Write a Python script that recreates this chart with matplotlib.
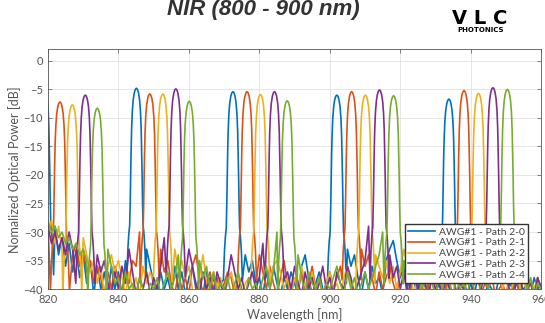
import numpy as np
import matplotlib
matplotlib.use('Agg')
import matplotlib.pyplot as plt

# series labels and MATLAB default colours
labels = ['AWG#1 - Path 2-0', 'AWG#1 - Path 2-1', 'AWG#1 - Path 2-2',
          'AWG#1 - Path 2-3', 'AWG#1 - Path 2-4']
colors = ['#0072BD', '#D95319', '#EDB120', '#7E2F8E', '#77AC30']

# peak centres [nm] and peak levels [dB]
peak_centers = [
    [818.9, 845.1, 872.5, 902.0, 933.8],
    [823.4, 848.9, 876.5, 906.2, 938.1],
    [826.9, 852.6, 880.3, 910.1, 942.2],
    [830.6, 856.3, 884.3, 914.1, 946.3],
    [834.0, 860.1, 887.9, 918.1, 950.4],
]
peak_tops = [
    [-4.5, -4.8, -5.4, -6.0, -6.7],
    [-7.2, -5.8, -5.4, -5.4, -5.2],
    [-7.7, -5.8, -5.9, -6.0, -5.7],
    [-6.0, -4.9, -5.4, -5.1, -4.7],
    [-8.3, -7.1, -7.0, -6.1, -5.0],
]

# passband shape (offset from centre [nm], level below peak [dB])
shape_off = [-2.7, -2.4, -2.15, -1.9, -1.75, -1.62, -1.5, -1.35, -1.15, -0.9, -0.6, -0.3, 0.0,
             0.3, 0.6, 0.9, 1.15, 1.35, 1.5, 1.62, 1.75, 1.9, 2.15, 2.4, 2.7]
shape_rel = [-33, -28, -25.5, -24, -20, -15, -11, -7, -4, -2, -0.8, -0.2, 0,
             -0.2, -0.8, -2, -4, -7, -11, -15, -20, -24, -25.5, -28, -33]

# noise floor sampled every 1 nm from 820 to 960
floor_wl = np.arange(820, 961, 1.0)
floor_20 = [-30, -33, -29, -34, -31, -36, -32, -37, -33, -38,
            -34, -39, -35, -41, -36, -40, -37, -41, -36, -40,
            -37, -41, -35, -33, -30, -30, -30, -31, -33, -36,
            -39, -41, -37, -40, -38, -41, -36, -40, -37, -41,
            -38, -36, -40, -38, -41, -37, -40, -38, -41, -39,
            -36, -33, -30, -30, -30, -33, -34, -37, -35, -39,
            -38, -41, -37, -40, -36, -39, -41, -38, -40, -37,
            -39, -41, -36, -34, -38, -41, -39, -37, -40, -41,
            -38, -35, -30, -30, -30, -33, -36, -34, -38, -41,
            -37, -40, -36, -39, -38, -41, -35, -33, -31.5, -35,
            -38, -36, -40, -37, -39, -41, -38, -40, -39, -41,
            -40, -38, -30, -30, -30, -30, -30, -34, -38, -41,
            -39, -41, -38, -40, -41, -39, -40, -41, -38, -40,
            -41, -39, -40, -38, -41, -40, -39, -41, -38, -40,
            -39]
floor_21 = [-28, -31, -29, -30, -30, -30, -31, -34, -32, -36,
            -33, -37, -35, -39, -36, -38, -41, -37, -40, -36,
            -38, -41, -37, -39, -35, -36, -30, -30, -30, -30,
            -30, -30, -33, -37, -35, -39, -41, -37, -40, -38,
            -41, -36, -34, -38, -41, -39, -37, -40, -38, -41,
            -39, -37, -38, -41, -32, -30, -30, -30, -30, -30,
            -34, -37, -40, -36, -39, -41, -38, -35, -39, -41,
            -38, -40, -37, -41, -39, -36, -40, -38, -41, -39,
            -37, -40, -38, -36, -30, -30, -30, -30, -30, -33,
            -36, -34, -38, -41, -37, -40, -38, -36, -39, -41,
            -37, -35, -38, -40, -36, -39, -41, -38, -40, -37,
            -39, -41, -38, -40, -37, -30, -30, -30, -30, -30,
            -30, -34, -38, -41, -39, -40, -38, -41, -40, -39,
            -41, -38, -40, -39, -41, -38, -40, -39, -41, -38,
            -40]
floor_22 = [-30, -28, -32, -29, -33, -30, -30, -30, -30, -30,
            -31, -34, -37, -35, -39, -36, -41, -36, -34, -37,
            -35, -38, -41, -37, -40, -38, -41, -36, -39, -37,
            -30, -30, -30, -30, -30, -30, -33, -37, -35, -38,
            -36, -40, -41, -38, -34, -39, -41, -37, -40, -38,
            -41, -39, -37, -40, -38, -41, -39, -38, -30, -30,
            -30, -30, -30, -33, -36, -35, -37, -40, -38, -41,
            -38, -40, -36, -39, -41, -37, -40, -38, -41, -39,
            -37, -40, -39, -41, -38, -36, -39, -41, -30, -30,
            -30, -30, -30, -34, -36, -38, -35, -39, -36, -40,
            -37, -33, -36, -38, -41, -37, -39, -40, -38, -41,
            -39, -37, -40, -41, -38, -39, -41, -37, -40, -39,
            -30, -30, -30, -30, -30, -33, -37, -39, -36, -40,
            -38, -41, -39, -37, -40, -38, -41, -39, -40, -38,
            -41]
floor_23 = [-29, -32, -30, -33, -31, -34, -30, -33, -30, -30,
            -30, -30, -30, -30, -34, -37, -35, -39, -41, -37,
            -40, -36, -39, -33, -37, -41, -38, -40, -37, -41,
            -38, -40, -36, -31, -30, -30, -30, -30, -30, -30,
            -33, -36, -39, -41, -37, -40, -38, -41, -37, -39,
            -41, -38, -34, -37, -40, -38, -41, -39, -37, -40,
            -38, -32, -30, -30, -30, -30, -30, -34, -37, -40,
            -36, -39, -41, -37, -40, -38, -41, -39, -36, -40,
            -38, -41, -37, -39, -40, -36, -38, -41, -39, -37,
            -35, -29, -30, -30, -30, -30, -30, -34, -38, -36,
            -40, -37, -41, -39, -38, -40, -36, -39, -41, -38,
            -40, -39, -41, -38, -40, -37, -41, -39, -40, -38,
            -41, -39, -38, -40, -30, -30, -30, -30, -30, -34,
            -38, -40, -41, -39, -38, -41, -40, -39, -41, -38,
            -40]
floor_24 = [-28, -30, -29, -31, -30, -32, -31, -33, -32, -34,
            -33, -35, -30, -30, -30, -30, -30, -33, -36, -39,
            -38, -41, -37, -40, -39, -41, -38, -40, -41, -39,
            -40, -38, -41, -39, -37, -40, -38, -34, -30, -30,
            -30, -30, -30, -35, -38, -36, -40, -37, -41, -39,
            -40, -38, -41, -39, -37, -40, -41, -38, -40, -39,
            -41, -38, -36, -40, -37, -30, -30, -30, -30, -30,
            -30, -34, -38, -41, -37, -39, -40, -38, -41, -39,
            -40, -38, -36, -39, -41, -37, -40, -38, -41, -39,
            -37, -40, -38, -36, -34, -30, -30, -30, -30, -30,
            -30, -35, -38, -36, -39, -37, -40, -38, -36, -39,
            -41, -38, -40, -37, -39, -41, -38, -40, -39, -41,
            -38, -40, -41, -39, -38, -40, -37, -39, -41, -38,
            -30, -30, -30, -30, -33, -37, -40, -38, -41, -39,
            -40]
floors = [floor_20, floor_21, floor_22, floor_23, floor_24]


def trace(centers, tops, floor):
    xs, ys = [], []
    for w, v in zip(floor_wl, floor):
        if min(abs(w - c) for c in centers) > 2.75:
            xs.append(w)
            ys.append(v)
    for c, t in zip(centers, tops):
        for o, r in zip(shape_off, shape_rel):
            xs.append(c + o)
            ys.append(t + r)
    order = np.argsort(xs)
    return np.array(xs)[order], np.array(ys)[order]


plt.rcParams['font.family'] = ['Lato', 'DejaVu Sans']

fig = plt.figure(figsize=(5.45, 3.23), dpi=100)
ax = fig.add_axes([0.088, 0.105, 0.905, 0.742])

for i in range(5):
    x, y = trace(peak_centers[i], peak_tops[i], floors[i])
    ax.plot(x, y, color=colors[i], lw=1.2, label=labels[i])

ax.set_xlim(820, 960)
ax.set_ylim(-40, 2)
ax.set_xticks(np.arange(820, 961, 20))
ax.set_yticks(np.arange(-40, 1, 5))
ax.grid(True, color='#e0e0e0', lw=0.6)
ax.tick_params(direction='in', top=True, right=True, labelsize=8,
               labelcolor='#555555', color='#555555', length=3, width=0.5)
for s in ax.spines.values():
    s.set_color('#555555')
    s.set_linewidth(0.6)

ax.set_xlabel('Wavelength [nm]', fontsize=9, color='#555555', labelpad=2)
ax.set_ylabel('Nomalized Optical Power [dB]', fontsize=9, color='#555555', labelpad=2)

leg = ax.legend(loc='lower right', bbox_to_anchor=(0.974, 0.025), fontsize=7.5,
                frameon=True, fancybox=False, framealpha=1, edgecolor='#333333',
                borderpad=0.3, labelspacing=0.15, handlelength=2.6,
                handletextpad=0.4, borderaxespad=0)
for t in leg.get_texts():
    t.set_color('#444444')

fig.text(0.484, 0.954, 'NIR (800 - 900 nm)', ha='center', va='baseline',
         fontsize=16, fontweight='bold', fontstyle='italic', color='#333333',
         family='Liberation Sans')
fig.text(0.881, 0.926, 'V L C', ha='center', va='baseline', fontsize=14,
         fontweight='bold', color='black', family='DejaVu Sans')
fig.text(0.881, 0.901, 'PHOTONICS', ha='center', va='baseline', fontsize=5,
         fontweight='bold', color='black', family='DejaVu Sans')

fig.savefig('out.png', dpi=100)
